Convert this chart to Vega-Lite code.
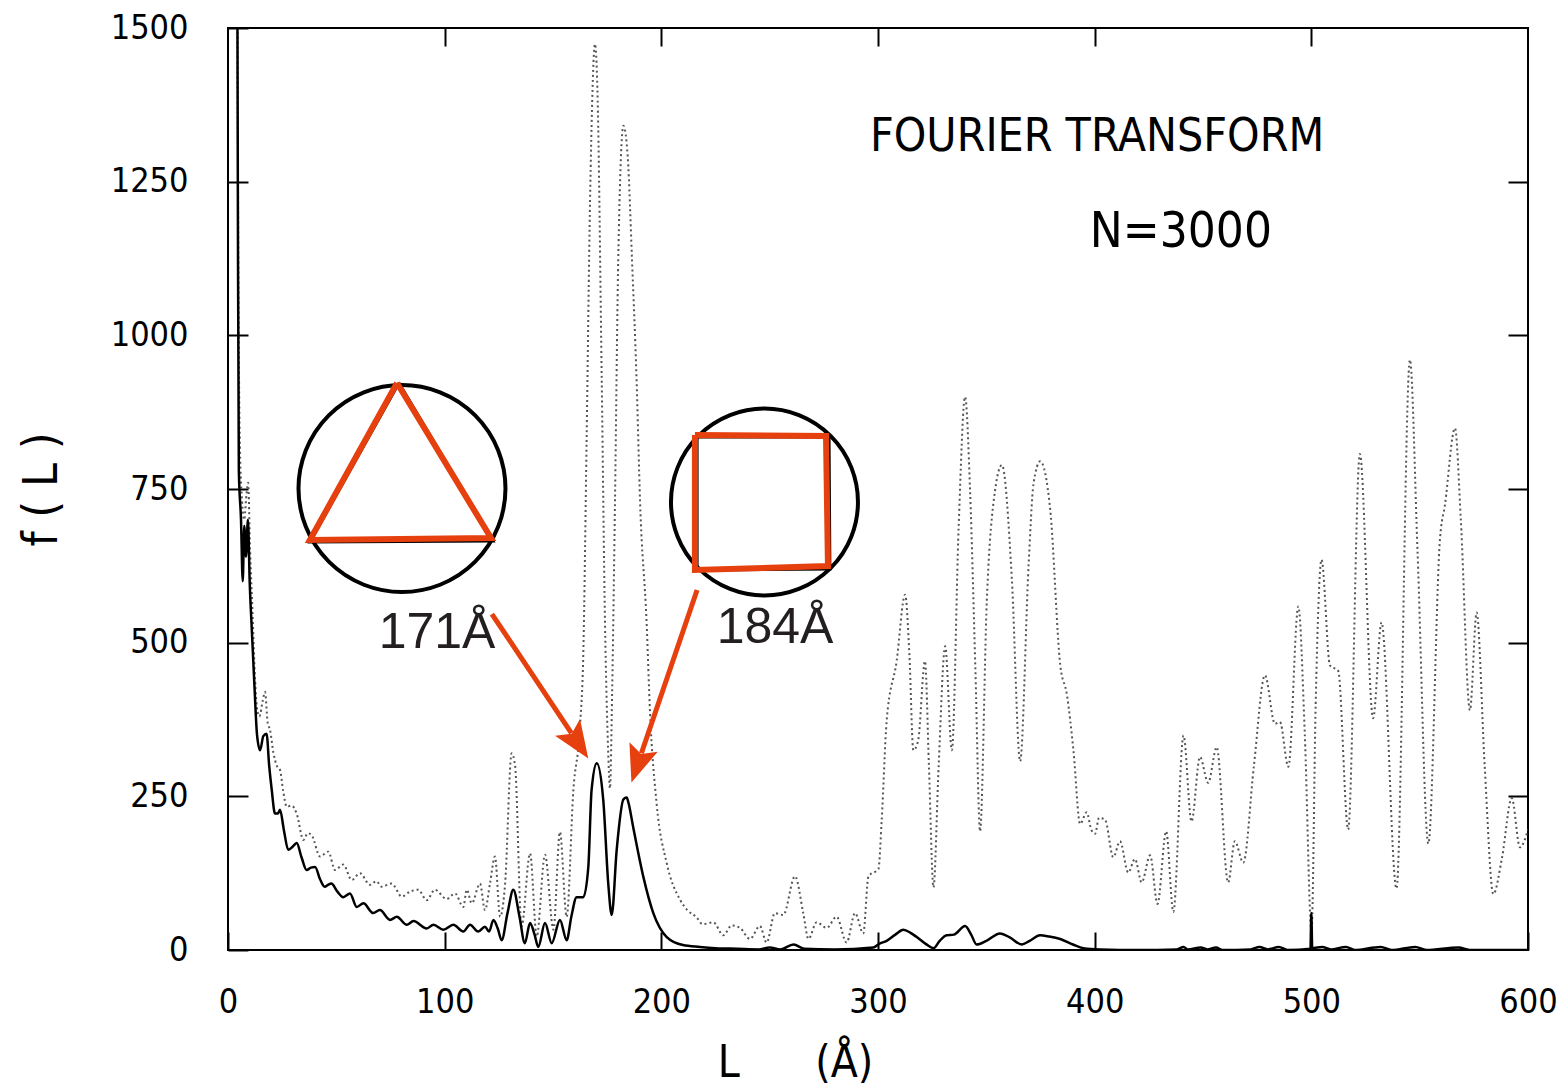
{
  "$schema": "https://vega.github.io/schema/vega-lite/v6.json",
  "width": 1300,
  "height": 922,
  "autosize": "none",
  "padding": {"left": 228, "top": 28, "right": 40, "bottom": 137},
  "background": "white",
  "config": {
    "view": {"stroke": "black", "strokeWidth": 2},
    "font": "DejaVu Sans Condensed",
    "axis": {"domain": false, "grid": false, "tickColor": "black", "tickWidth": 2, "labelColor": "black", "titleColor": "black", "labelFont": "DejaVu Sans Condensed", "titleFont": "DejaVu Sans Condensed"}
  },
  "datasets": {
    "solid": [
      {"L":4.3,"f":1600},{"L":4.6,"f":1150},{"L":5.0,"f":780},{"L":6.0,"f":700},{"L":6.8,"f":600},{"L":7.5,"f":690},{"L":8.3,"f":640},{"L":9.2,"f":700},{"L":10.0,"f":600},{"L":11.0,"f":520},{"L":12.2,"f":430},{"L":13.4,"f":350},{"L":14.8,"f":325},{"L":16.3,"f":348},{"L":17.8,"f":352},{"L":19.0,"f":300},{"L":20.2,"f":260},{"L":21.7,"f":222},{"L":23.0,"f":222},{"L":24.0,"f":228},{"L":25.8,"f":195},{"L":27.8,"f":163},{"L":29.8,"f":168},{"L":31.7,"f":174},{"L":34.0,"f":150},{"L":36.3,"f":130},{"L":38.3,"f":134},{"L":40.2,"f":135},{"L":42.5,"f":115},{"L":44.6,"f":103},{"L":46.2,"f":106},{"L":47.7,"f":108},{"L":50.5,"f":95},{"L":53.2,"f":86},{"L":56.3,"f":92},{"L":59.4,"f":70},{"L":62.5,"f":76},{"L":67.0,"f":60},{"L":70.1,"f":65},{"L":74.8,"f":49},{"L":77.9,"f":54},{"L":82.5,"f":41},{"L":85.6,"f":47},{"L":91.7,"f":35},{"L":94.8,"f":41},{"L":99.4,"f":33},{"L":104.0,"f":41},{"L":108.6,"f":30},{"L":111.7,"f":41},{"L":115.5,"f":30},{"L":118.6,"f":38},{"L":120.5,"f":30},{"L":122.5,"f":49},{"L":124.5,"f":35},{"L":126.3,"f":16},{"L":129.0,"f":60},{"L":131.7,"f":98},{"L":134.5,"f":55},{"L":137.0,"f":11},{"L":139.4,"f":44},{"L":141.5,"f":25},{"L":143.2,"f":5},{"L":146.3,"f":44},{"L":149.4,"f":11},{"L":153.2,"f":49},{"L":156.3,"f":16},{"L":158.5,"f":55},{"L":160.9,"f":86},{"L":164.0,"f":86},{"L":166.3,"f":135},{"L":167.8,"f":260},{"L":170.2,"f":304},{"L":173.2,"f":244},{"L":175.5,"f":108},{"L":177.1,"f":57},{"L":179.4,"f":163},{"L":182.5,"f":245},{"L":184.0,"f":248},{"L":184.8,"f":240},{"L":187.0,"f":200},{"L":191.7,"f":119},{"L":196.3,"f":60},{"L":202.5,"f":21},{"L":210.0,"f":8},{"L":217.8,"f":5},{"L":225,"f":3},{"L":235,"f":2},{"L":245,"f":1},{"L":250,"f":4},{"L":255,"f":1},{"L":261,"f":9},{"L":266,"f":2},{"L":280,"f":1},{"L":297.8,"f":4},{"L":300.5,"f":10},{"L":304,"f":15},{"L":308,"f":25},{"L":311.7,"f":33},{"L":315,"f":28},{"L":317.9,"f":21},{"L":322,"f":10},{"L":325.6,"f":3},{"L":328.5,"f":15},{"L":331.7,"f":24},{"L":335,"f":25},{"L":340.2,"f":39},{"L":343,"f":25},{"L":345.5,"f":9},{"L":350,"f":15},{"L":356.3,"f":27},{"L":361,"f":20},{"L":366.3,"f":9},{"L":370,"f":15},{"L":374.8,"f":24},{"L":379,"f":22},{"L":384.1,"f":18},{"L":390,"f":9},{"L":394.8,"f":3},{"L":402.5,"f":1},{"L":420,"f":0},{"L":438,"f":1},{"L":441,"f":5},{"L":443,"f":1},{"L":449,"f":4},{"L":452,"f":1},{"L":456,"f":4},{"L":459,"f":0},{"L":472,"f":1},{"L":476,"f":5},{"L":480,"f":1},{"L":485,"f":5},{"L":489,"f":0},{"L":499.6,"f":2},{"L":500.0,"f":60},{"L":500.4,"f":3},{"L":505,"f":5},{"L":509,"f":1},{"L":516,"f":5},{"L":520,"f":0},{"L":532,"f":5},{"L":537,"f":0},{"L":548,"f":5},{"L":553,"f":0},{"L":568,"f":4},{"L":573,"f":0},{"L":600,"f":0}
    ],
    "dotted": [
      {"L":4.3,"f":1600},{"L":4.8,"f":1100},{"L":5.5,"f":820},{"L":6.5,"f":730},{"L":7.5,"f":700},{"L":8.5,"f":740},{"L":9.3,"f":760},{"L":10.2,"f":650},{"L":11.2,"f":560},{"L":12.5,"f":440},{"L":13.5,"f":390},{"L":14.5,"f":380},{"L":16.0,"f":405},{"L":17.1,"f":420},{"L":18.3,"f":370},{"L":19.4,"f":358},{"L":21.0,"f":320},{"L":22.5,"f":300},{"L":24.0,"f":293},{"L":25.5,"f":258},{"L":27.1,"f":233},{"L":29.3,"f":235},{"L":31.7,"f":222},{"L":34.8,"f":179},{"L":36.8,"f":190},{"L":38.6,"f":187},{"L":42.5,"f":152},{"L":46.3,"f":160},{"L":49.4,"f":130},{"L":53.2,"f":139},{"L":57.1,"f":114},{"L":60.9,"f":125},{"L":65.5,"f":106},{"L":68.5,"f":112},{"L":70.9,"f":103},{"L":75.5,"f":108},{"L":80.2,"f":87},{"L":84.0,"f":95},{"L":87.8,"f":98},{"L":91.7,"f":81},{"L":95.5,"f":98},{"L":100.9,"f":83},{"L":104.8,"f":92},{"L":108.6,"f":70},{"L":110.2,"f":98},{"L":112.5,"f":76},{"L":116.3,"f":108},{"L":118.6,"f":65},{"L":121.0,"f":110},{"L":123.2,"f":152},{"L":125.6,"f":54},{"L":127.9,"f":108},{"L":130.9,"f":320},{"L":132.5,"f":300},{"L":135.5,"f":38},{"L":139.4,"f":157},{"L":142.5,"f":22},{"L":146.3,"f":155},{"L":150.2,"f":33},{"L":153.2,"f":192},{"L":156.3,"f":54},{"L":159.4,"f":260},{"L":162.5,"f":366},{"L":164.0,"f":484},{"L":165.5,"f":827},{"L":167.1,"f":1219},{"L":169.4,"f":1474},{"L":170.5,"f":1400},{"L":172.5,"f":925},{"L":174.0,"f":533},{"L":175.4,"f":330},{"L":176.3,"f":263},{"L":177.3,"f":420},{"L":178.6,"f":728},{"L":180.1,"f":1121},{"L":182.5,"f":1341},{"L":184.5,"f":1290},{"L":186.5,"f":1120},{"L":188.6,"f":925},{"L":190.2,"f":728},{"L":193.2,"f":533},{"L":194.8,"f":385},{"L":197.8,"f":239},{"L":202.5,"f":141},{"L":208.6,"f":82},{"L":212,"f":65},{"L":216.3,"f":53},{"L":219,"f":42},{"L":224,"f":45},{"L":228.6,"f":24},{"L":232.5,"f":40},{"L":236.3,"f":36},{"L":240.9,"f":18},{"L":245.5,"f":39},{"L":248.6,"f":12},{"L":252.4,"f":60},{"L":256.3,"f":57},{"L":261.7,"f":120},{"L":265.5,"f":60},{"L":267.9,"f":18},{"L":271.7,"f":45},{"L":276.3,"f":36},{"L":280.9,"f":54},{"L":285.5,"f":12},{"L":289.4,"f":60},{"L":293.2,"f":27},{"L":295.6,"f":120},{"L":300.2,"f":132},{"L":301.7,"f":211},{"L":304,"f":373},{"L":308.6,"f":470},{"L":312.5,"f":578},{"L":314.5,"f":480},{"L":316.3,"f":325},{"L":318.5,"f":340},{"L":321.7,"f":470},{"L":323.5,"f":300},{"L":325.6,"f":102},{"L":328,"f":300},{"L":331,"f":494},{"L":334.1,"f":325},{"L":337.2,"f":686},{"L":340.2,"f":900},{"L":342.5,"f":747},{"L":345,"f":450},{"L":347.1,"f":193},{"L":350.2,"f":566},{"L":354,"f":747},{"L":357.2,"f":789},{"L":361.8,"f":602},{"L":365.6,"f":307},{"L":369.5,"f":626},{"L":371.8,"f":759},{"L":374.9,"f":795},{"L":379.5,"f":716},{"L":384.1,"f":464},{"L":387.2,"f":415},{"L":390.2,"f":325},{"L":393.3,"f":205},{"L":396.3,"f":224},{"L":398.5,"f":195},{"L":400.2,"f":189},{"L":402,"f":215},{"L":404.8,"f":212},{"L":408.6,"f":151},{"L":411.7,"f":177},{"L":415.5,"f":126},{"L":418.6,"f":148},{"L":421.7,"f":110},{"L":425.6,"f":154},{"L":429,"f":75},{"L":433,"f":193},{"L":436.3,"f":62},{"L":441,"f":349},{"L":444.7,"f":209},{"L":448.6,"f":314},{"L":452.4,"f":272},{"L":456.3,"f":330},{"L":461.6,"f":110},{"L":464.7,"f":177},{"L":468.6,"f":142},{"L":473.5,"f":300},{"L":478.6,"f":447},{"L":483.2,"f":368},{"L":485.5,"f":371},{"L":489.4,"f":298},{"L":494,"f":559},{"L":497,"f":350},{"L":500.1,"f":30},{"L":502,"f":400},{"L":504.7,"f":635},{"L":508.6,"f":463},{"L":512.4,"f":454},{"L":517,"f":196},{"L":522.4,"f":807},{"L":528.5,"f":377},{"L":532.4,"f":533},{"L":539.3,"f":100},{"L":545.5,"f":960},{"L":549,"f":650},{"L":554,"f":173},{"L":559.4,"f":670},{"L":561.7,"f":725},{"L":566.3,"f":849},{"L":569,"f":700},{"L":573.2,"f":390},{"L":576.3,"f":549},{"L":580,"f":300},{"L":584,"f":91},{"L":588,"f":150},{"L":592.5,"f":247},{"L":596.3,"f":167},{"L":600,"f":196}
    ],
    "triRed": [{"i":0,"L":78.0,"f":922.4},{"i":1,"L":121.4,"f":670.3},{"i":2,"L":37.8,"f":667.0},{"i":3,"L":78.0,"f":922.4}],
    "triBlack": [{"i":0,"L":78.9,"f":922.4},{"i":1,"L":122.3,"f":665.4},{"i":2,"L":37.8,"f":663.7},{"i":3,"L":78.9,"f":922.4}],
    "sqRed": [{"i":0,"L":215.5,"f":837.8},{"i":1,"L":276.0,"f":836.2},{"i":2,"L":276.9,"f":624.7},{"i":3,"L":215.5,"f":618.2},{"i":4,"L":215.5,"f":837.8}],
    "sqBlack": [{"i":0,"L":216.5,"f":834.6},{"i":1,"L":277.4,"f":834.6},{"i":2,"L":277.8,"f":619.8},{"i":3,"L":216.5,"f":618.2},{"i":4,"L":216.5,"f":834.6}],
    "circle1": [{"L":80.3,"f":750.8}],
    "circle2": [{"L":247.6,"f":728.8}],
    "shafts": [{"L":121.8,"f":546.6,"L2":158.5,"f2":353},{"L":216.5,"f":585.7,"L2":190.8,"f2":320}],
    "head1": [{"L":161.5,"f":336.8}],
    "head2": [{"L":189.0,"f":301.5}],
    "labels": [{"L":96.5,"f":491,"t":"171Å"},{"L":252.5,"f":499.4,"t":"184Å"}],
    "title1": [{"L":401.1,"f":1322.6,"t":"FOURIER TRANSFORM"}],
    "title2": [{"L":439.8,"f":1168,"t":"N=3000"}]
  },
  "encoding": {
    "x": {"field": "L", "type": "quantitative", "scale": {"domain": [0, 600], "nice": false, "zero": false}, "axis": null},
    "y": {"field": "f", "type": "quantitative", "scale": {"domain": [0, 1500], "nice": false, "zero": false}, "axis": null}
  },
  "layer": [
    {
      "data": {"name": "dotted"},
      "mark": {"type": "line", "stroke": "#555555", "strokeWidth": 2, "strokeDash": [2, 3], "clip": true, "interpolate": "monotone"},
      "encoding": {
        "x": {"field": "L", "type": "quantitative", "scale": {"domain": [0, 600], "nice": false, "zero": false},
          "axis": {"orient": "bottom", "values": [0, 100, 200, 300, 400, 500, 600], "format": "d", "tickSize": -18, "labelPadding": 53, "labelFontSize": 34, "labelOverlap": false, "labelFlush": false,
            "title": "L\u00a0\u00a0\u00a0\u00a0\u00a0\u00a0(Å)", "titleFontSize": 44, "titleFontWeight": "normal", "titlePadding": 22, "titleX": 567}},
        "y": {"field": "f", "type": "quantitative", "scale": {"domain": [0, 1500], "nice": false, "zero": false},
          "axis": {"orient": "left", "values": [0, 250, 500, 750, 1000, 1250, 1500], "format": "d", "tickSize": -20, "labelPadding": 60, "labelFontSize": 34, "labelOverlap": false, "labelFlush": false,
            "title": "f ( L )", "titleFontSize": 48, "titleFontWeight": "normal", "titlePadding": 44}}
      }
    },
    {
      "data": {"name": "solid"},
      "mark": {"type": "line", "stroke": "black", "strokeWidth": 2.5, "clip": true, "interpolate": "monotone"},
      "encoding": {
        "x": {"field": "L", "type": "quantitative", "scale": {"domain": [0, 600], "nice": false, "zero": false},
          "axis": {"orient": "top", "values": [100, 200, 300, 400, 500], "tickSize": -18, "labels": false, "title": null}},
        "y": {"field": "f", "type": "quantitative", "scale": {"domain": [0, 1500], "nice": false, "zero": false},
          "axis": {"orient": "right", "values": [250, 500, 750, 1000, 1250], "tickSize": -20, "labels": false, "title": null}}
      }
    },
    {
      "data": {"name": "circle1"},
      "mark": {"type": "point", "shape": "circle", "filled": false, "stroke": "black", "strokeWidth": 4, "opacity": 1, "size": 42849}
    },
    {
      "data": {"name": "circle2"},
      "mark": {"type": "point", "shape": "circle", "filled": false, "stroke": "black", "strokeWidth": 4, "opacity": 1, "size": 34969}
    },
    {
      "data": {"name": "triBlack"},
      "mark": {"type": "line", "stroke": "black", "strokeWidth": 3, "strokeJoin": "miter"},
      "encoding": {"order": {"field": "i", "type": "quantitative"}}
    },
    {
      "data": {"name": "triRed"},
      "mark": {"type": "line", "stroke": "#e6400f", "strokeWidth": 6, "strokeJoin": "miter"},
      "encoding": {"order": {"field": "i", "type": "quantitative"}}
    },
    {
      "data": {"name": "sqBlack"},
      "mark": {"type": "line", "stroke": "black", "strokeWidth": 3, "strokeJoin": "miter"},
      "encoding": {"order": {"field": "i", "type": "quantitative"}}
    },
    {
      "data": {"name": "sqRed"},
      "mark": {"type": "line", "stroke": "#e6400f", "strokeWidth": 6, "strokeJoin": "miter"},
      "encoding": {"order": {"field": "i", "type": "quantitative"}}
    },
    {
      "data": {"name": "shafts"},
      "mark": {"type": "rule", "stroke": "#e6400f", "strokeWidth": 5},
      "encoding": {"x2": {"field": "L2"}, "y2": {"field": "f2"}}
    },
    {
      "data": {"name": "head1"},
      "mark": {"type": "point", "shape": "M0,-1L0.8,1L0,0.6L-0.8,1Z", "filled": true, "fill": "#e6400f", "stroke": null, "opacity": 1, "size": 1400, "angle": 146.3}
    },
    {
      "data": {"name": "head2"},
      "mark": {"type": "point", "shape": "M0,-1L0.8,1L0,0.6L-0.8,1Z", "filled": true, "fill": "#e6400f", "stroke": null, "opacity": 1, "size": 1400, "angle": 198.9}
    },
    {
      "data": {"name": "labels"},
      "mark": {"type": "text", "font": "Liberation Sans", "fontSize": 50, "fill": "#231f20", "align": "center", "baseline": "alphabetic"},
      "encoding": {"text": {"field": "t"}}
    },
    {
      "data": {"name": "title1"},
      "mark": {"type": "text", "font": "DejaVu Sans Condensed", "fontSize": 46, "fill": "black", "align": "center", "baseline": "middle"},
      "encoding": {"text": {"field": "t"}}
    },
    {
      "data": {"name": "title2"},
      "mark": {"type": "text", "font": "DejaVu Sans Condensed", "fontSize": 49, "fill": "black", "align": "center", "baseline": "middle"},
      "encoding": {"text": {"field": "t"}}
    }
  ]
}
